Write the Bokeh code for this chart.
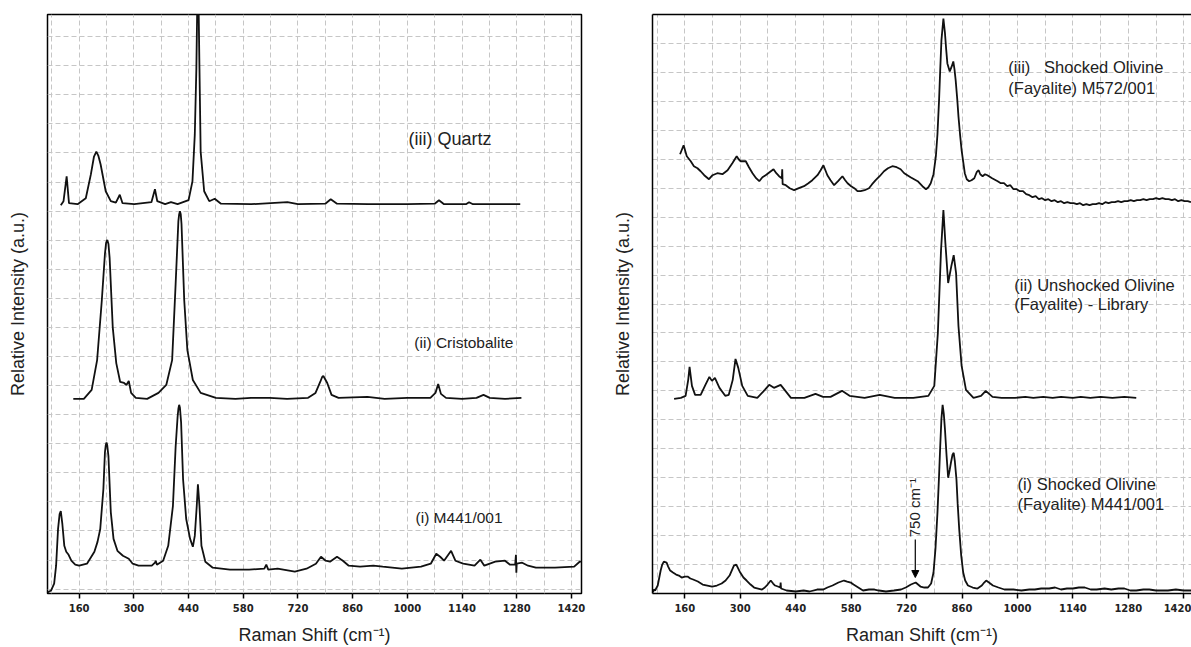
import math
from bokeh.plotting import figure
from bokeh.layouts import row
from bokeh.models import Range1d, FixedTicker, LinearAxis, Label, Arrow, NormalHead
from bokeh.embed import file_html
from bokeh.resources import INLINE

# ---------------- data ----------------
x_ticks = [160, 300, 440, 580, 720, 860, 1000, 1140, 1280, 1420]
x_label = "Raman Shift (cm\u207b\u00b9)"
y_label = "Relative Intensity (a.u.)"

# Left panel: (iii) Quartz
quartz_x = [113, 120, 128, 134, 156, 177, 190, 198, 204, 209, 215, 228, 241, 254, 264, 271, 301, 345, 354, 360,
            380, 395, 412, 440, 450, 456, 460, 464, 468, 471, 480, 493, 507, 523, 600, 693, 720, 790,
            804, 820, 900, 1000, 1070, 1081, 1094, 1150, 1158, 1168, 1289]
quartz_y = [391, 395, 420, 393, 392, 398, 422, 440, 445, 441, 432, 405, 395, 393.5, 401.5, 393, 392, 394, 407, 395,
            392, 394, 392, 396, 415, 462, 528, 640, 528, 445, 405, 395, 397.5, 392.5, 392, 394, 392, 392.5,
            397, 392.5, 392, 392, 392.5, 396, 392, 392, 394, 392, 392]

# Left panel: (ii) Cristobalite
crist_x = [145, 172, 192, 206, 218, 226, 229, 232, 235, 238, 246, 255, 265, 275, 281, 287, 293, 305, 334, 363,
           383, 398, 407, 414, 416, 418, 420, 422, 429, 437, 451, 471, 510, 560, 600, 648, 692, 746, 765, 777,
           782, 785, 788, 795, 806, 824, 898, 942, 1000, 1059, 1072, 1079, 1086, 1099, 1140, 1177, 1195, 1211,
           1250, 1292]
crist_y = [196, 196, 205, 235, 295, 342, 353, 356, 352, 338, 268, 232, 213, 212, 210, 214, 202, 197, 196, 202,
           210, 235, 312, 375, 382, 385, 382, 372, 295, 245, 215, 202, 197, 196, 197, 197, 196, 197, 202, 213,
           218, 219, 217, 212, 200, 197, 198, 196, 197, 197, 202, 211, 201, 197, 196, 197, 200, 197,
           196, 197]

# Left panel: (i) M441/001
m441_x = [79, 88, 96, 101, 106, 110, 113, 117, 122, 127, 133, 140, 150, 160, 180, 199, 207, 214, 222,
          226, 228, 230, 232, 235, 241, 248, 258, 272, 287, 297, 312, 331, 346, 354, 356, 359, 375, 388, 400,
          407, 412, 414, 416, 418, 421, 426, 434, 444, 451, 456, 461, 464, 468, 473, 483, 502, 546, 595, 634,
          639, 644, 668, 712, 742, 766, 779, 791, 802, 820, 835, 850, 879, 913, 937, 986, 1035,
          1060, 1074, 1084, 1094, 1112, 1123, 1143, 1172, 1187, 1197, 1225, 1250, 1263, 1276, 1278,
          1279, 1280, 1294, 1309, 1329, 1378, 1427, 1441, 1446]
m441_y = [1, 3, 10, 28, 65, 80, 83, 70, 48, 42, 39, 33, 29, 28, 30, 42, 52, 65, 105,
          142, 149, 152, 149, 138, 82, 55, 43, 38, 35, 30, 28, 28, 28, 31, 33, 29, 33, 48, 88,
          148, 178, 186, 190, 187, 172, 115, 75, 55, 47, 58, 88, 110, 88, 48, 32, 26, 24, 24, 25,
          29, 24, 25, 22, 25, 30, 37, 33, 32, 37, 33, 28, 27, 28, 27, 25, 27,
          30, 40, 37, 33, 43, 33, 30, 28, 34, 28, 32, 33, 29, 29, 39,
          21, 30, 31, 28, 26, 26, 27, 32, 32]

# Right panel: (iii) Shocked Olivine (Fayalite) M572/001
m572_x = [148, 157, 165, 175, 183, 192, 200, 209, 215, 221, 230, 242, 255, 268, 280, 291, 296, 301, 314,
          322, 331, 340, 348, 356, 364, 374, 384, 391, 398, 405, 406, 407, 415, 425, 436, 448, 461,
          472, 482, 495, 503, 510, 515, 520, 528, 537, 547, 558, 565, 571, 580, 588, 596, 604, 614,
          625, 633, 642, 652, 663, 673, 684, 695, 705, 714, 730, 748, 760, 769, 775, 781, 788, 794,
          798, 802, 805, 808, 813, 817, 820, 823, 829, 834, 838, 841, 844, 848, 851, 855, 859, 867,
          872, 878, 884, 891, 897, 902, 906, 912, 918, 924, 936, 950, 958, 966, 974, 982, 990, 998,
          1006, 1014, 1022, 1030, 1038, 1046, 1054, 1062, 1070, 1078, 1086, 1094, 1102, 1110, 1118,
          1126, 1134, 1142, 1150, 1158, 1166, 1174, 1182, 1190, 1198, 1206, 1214, 1222, 1230, 1238,
          1246, 1254, 1262, 1270, 1278, 1286, 1294, 1302, 1310, 1318, 1326, 1334, 1342, 1350, 1358,
          1366, 1374, 1382, 1390, 1398, 1406, 1414, 1422, 1430, 1438]
m572_y = [440, 449, 438, 433, 428, 426, 423, 419, 417, 415, 419, 421, 420, 424, 431, 438, 435, 433, 433,
          427, 421, 416, 413, 417, 419, 422, 425, 421, 418, 416, 425, 410, 409, 406, 404, 406, 408,
          411, 414, 419, 424, 429, 424, 419, 414, 409, 413, 418, 414, 411, 408, 406, 403, 403, 404,
          406, 410, 414, 418, 423, 426, 428, 427, 425, 421, 417, 413, 408, 405, 407, 411, 420, 438,
          460, 494, 525, 554, 576, 561, 545, 531, 523, 528, 533, 525, 514, 495, 478, 460, 444, 421,
          415, 413, 414, 416, 422, 424, 420, 418, 420, 419, 416, 413, 411, 411, 408, 409, 405, 405,
          403, 403, 400, 399, 397, 398, 395, 396, 394, 395, 393, 394, 392, 393, 391,
          392, 391, 391, 390, 391, 389, 390, 389, 390, 390, 391, 390, 392, 391, 392,
          392, 393, 392, 393, 393, 394, 393, 394, 394, 395, 394, 395, 395, 396, 395,
          396, 395, 395, 394, 395, 393, 394, 393, 393, 392]

# Right panel: (ii) Unshocked Olivine (Fayalite) - Library
lib_x = [133, 150, 162, 168.6, 172, 178, 186, 200, 212, 222, 228.5, 236, 247.5, 262, 271, 281, 288, 295,
         305, 319, 343, 362, 373, 385, 402, 414, 428, 462, 490, 509, 528, 557, 576, 614, 652, 690,
         737, 775, 790, 799, 807, 813, 818, 825, 833, 839, 845, 851, 859, 870, 889, 908, 920, 937,
         960, 994, 1020, 1040, 1065, 1089, 1110, 1140, 1160, 1184, 1210, 1240, 1270, 1300]
lib_y = [195, 196, 198, 214, 227, 208, 199, 199, 209, 217, 213, 216, 206, 198, 199, 214, 235, 226,
         208, 198, 196, 204, 209, 206, 209, 203, 196, 196, 200, 197, 197, 203, 198, 196, 199, 196,
         196, 198, 208, 261, 344, 384, 351, 311, 328, 339, 321, 268, 228, 204, 196, 198, 203, 197,
         196, 196, 197, 196, 197, 196, 197, 196, 197, 196, 197, 196, 197, 196]

# Right panel: (i) Shocked Olivine (Fayalite) M441/001
fa441_x = [79, 82, 85, 91.6, 99, 103, 107, 114, 118, 123, 130, 138, 145, 152, 160, 167, 174, 181, 193,
           205, 217, 229, 241, 253, 263, 273, 284, 290, 295, 300, 308, 316, 326, 335, 345, 355, 362,
           369, 377, 383, 388, 395, 401, 402, 403, 410, 417, 440, 460, 475, 494, 510, 520, 533, 548,
           562, 570, 579, 586, 598, 610, 625, 639, 650, 668, 688, 706, 718, 731, 743, 749, 755, 765,
           774, 782, 788, 793, 798, 802, 805, 808, 811, 814, 817, 821, 825, 829, 832, 836, 839, 842,
           846, 849, 853, 858, 863, 868, 875, 887, 899, 910, 916, 921, 928, 938, 952, 967, 990, 1010,
           1030, 1044, 1060, 1080, 1095, 1110, 1125, 1140, 1155, 1170, 1185, 1200, 1220, 1237, 1255,
           1270, 1285, 1300, 1318, 1333, 1350, 1380, 1400, 1420, 1440]
fa441_y = [1, 4, 3, 8, 23, 29, 32, 31, 27, 23, 21, 19, 18, 16, 17, 17, 15, 14, 12,
           9, 8, 7, 8, 10, 13, 18, 28, 29, 25, 21, 16, 13, 9, 6, 5, 4, 6,
           9, 13, 10, 8, 7, 6, 11, 5, 4, 3, 2, 3, 2, 4, 4, 6, 8, 11,
           13, 12, 11, 9, 6, 3, 4, 4, 3, 2, 3, 4, 6, 9, 11, 9, 7, 6,
           6, 10, 21, 45, 81, 118, 148, 175, 189, 180, 164, 138, 116, 124, 131, 139, 141, 132,
           114, 90, 64, 38, 21, 13, 8, 6, 5, 8, 11, 13, 11, 8, 6, 4, 4, 3,
           4, 4, 5, 5, 6, 4, 5, 5, 6, 6, 4, 4, 5, 4, 5,
           5, 3, 3, 4, 4, 3, 3, 4, 3, 3]

# ---------------- styling helpers ----------------
LINE = "#111111"
GRID = "#c6c6c6"
FONT = "Liberation Sans"


def base_figure(width, xr, yr, left, right, top, bottom):
    p = figure(width=width, height=647, x_range=Range1d(*xr), y_range=Range1d(*yr),
               output_backend="svg", toolbar_location=None,
               min_border_left=left, min_border_right=right,
               min_border_top=top, min_border_bottom=bottom)
    p.background_fill_color = "white"
    p.border_fill_color = "white"
    # x axis
    xa = p.xaxis[0]
    xa.ticker = FixedTicker(ticks=x_ticks)
    xa.major_tick_in = 0
    xa.major_tick_out = 5
    xa.major_tick_line_width = 1.5
    xa.major_tick_line_color = "black"
    xa.minor_tick_line_color = None
    xa.major_label_text_font = "DejaVu Sans"
    xa.major_label_text_font_style = "bold"
    xa.major_label_text_font_size = "10px"
    xa.major_label_text_color = "#222222"
    xa.major_label_standoff = 5
    xa.axis_label = x_label
    xa.axis_label_text_font = FONT
    xa.axis_label_text_font_style = "normal"
    xa.axis_label_text_font_size = "18px"
    xa.axis_label_text_color = "#222222"
    xa.axis_label_standoff = 10
    # y axis
    ya = p.yaxis[0]
    ya.ticker = FixedTicker(ticks=[])
    ya.major_tick_in = 0
    ya.major_tick_out = 0
    ya.minor_tick_line_color = None
    ya.major_label_standoff = 0
    ya.major_label_text_font_size = "0px"
    ya.axis_label = y_label
    ya.axis_label_text_font = FONT
    ya.axis_label_text_font_style = "normal"
    ya.axis_label_text_font_size = "18px"
    ya.axis_label_text_color = "#222222"
    ya.axis_label_standoff = 20
    # grid
    p.xgrid.ticker = FixedTicker(ticks=list(range(90, 1450, 70)))
    for g in (p.xgrid[0], p.ygrid[0]):
        g.grid_line_color = GRID
        g.grid_line_dash = "5 3"
        g.grid_line_width = 1
    return p


def add_label(p, x, y, text, size):
    p.add_layout(Label(x=x, y=y, text=text, text_font=FONT, text_font_size=size,
                       text_color="#222222", text_align="left", text_baseline="middle"))


# ---------------- left panel ----------------
p1 = base_figure(600, (79, 1445.8), (0, 583), 47, 19, 12, 52)
p1.ygrid.ticker = FixedTicker(ticks=[4.4 + 29.28 * k for k in range(20)])
p1.outline_line_color = "black"
p1.outline_line_width = 1.5
p1.outline_line_alpha = 1
p1.xaxis.axis_line_color = None
p1.yaxis.axis_line_color = None

for xs, ys in ((quartz_x, quartz_y), (crist_x, crist_y), (m441_x, m441_y)):
    p1.line(xs, ys, line_color=LINE, line_width=1.8)

add_label(p1, 1003, 458, "(iii) Quartz", "18px")
add_label(p1, 1018, 253, "(ii) Cristobalite", "15.5px")
add_label(p1, 1021, 77, "(i) M441/001", "15.5px")

# ---------------- right panel ----------------
p2 = base_figure(591, (78.4, 1439.5), (0, 580), 52, 0, 14, 53)
p2.ygrid.ticker = FixedTicker(ticks=[29.0 * k for k in range(20)])
p2.outline_line_color = None
p2.xaxis.axis_line_color = "black"
p2.xaxis.axis_line_width = 1.5
p2.yaxis.axis_line_color = "black"
p2.yaxis.axis_line_width = 1.5
top_axis = LinearAxis(ticker=FixedTicker(ticks=[]), major_tick_in=0, major_tick_out=0,
                      major_label_text_font_size="0px", major_label_standoff=0,
                      axis_line_color="black", axis_line_width=1.5,
                      minor_tick_line_color=None)
p2.add_layout(top_axis, "above")

for xs, ys in ((m572_x, m572_y), (lib_x, lib_y), (fa441_x, fa441_y)):
    p2.line(xs, ys, line_color=LINE, line_width=1.8)

add_label(p2, 977, 527, "(iii)\u00a0\u00a0\u00a0Shocked Olivine", "16.5px")
add_label(p2, 977, 506.5, "(Fayalite) M572/001", "16.5px")
add_label(p2, 992, 309, "(ii) Unshocked Olivine", "16.5px")
add_label(p2, 992, 289.5, "(Fayalite) - Library", "16.5px")
add_label(p2, 1000, 109.5, "(i) Shocked Olivine", "16.5px")
add_label(p2, 1000, 90, "(Fayalite) M441/001", "16.5px")

p2.add_layout(Label(x=739, y=86, text="750 cm\u207b\u00b9", angle=math.pi / 2, text_font=FONT,
                    text_font_size="15px", text_color="#222222",
                    text_align="center", text_baseline="middle"))
p2.add_layout(Arrow(end=NormalHead(size=7, fill_color="black", line_color="black"),
                    x_start=742, y_start=54, x_end=742, y_end=16,
                    line_color="black", line_width=1.2))

layout = row(p1, p2)
open("out.html", "w").write(file_html(layout, INLINE))
